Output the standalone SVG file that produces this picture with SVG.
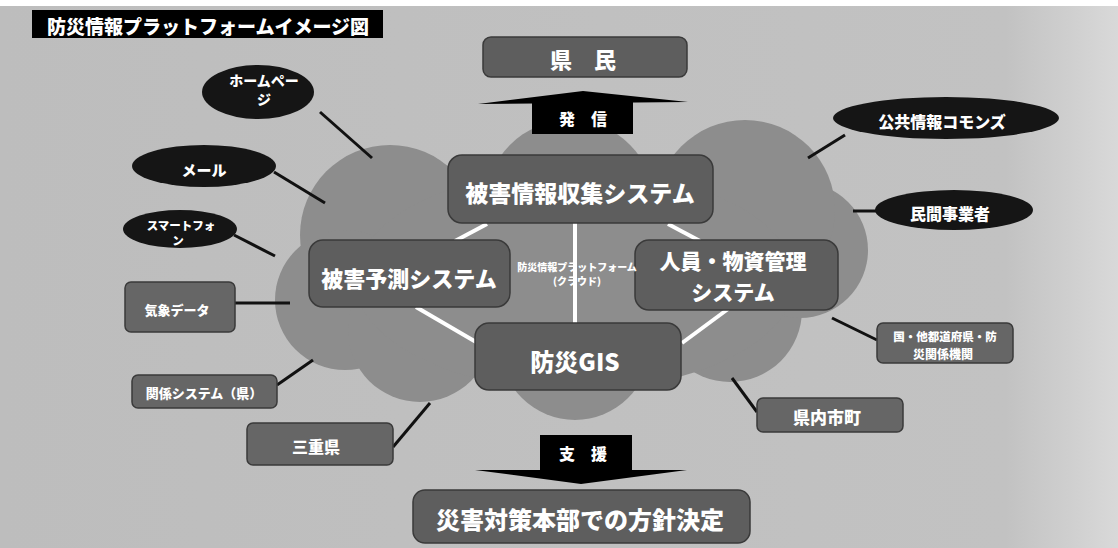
<svg xmlns="http://www.w3.org/2000/svg" width="1118" height="548" viewBox="0 0 1118 548">
<defs>
<linearGradient id="bg" x1="0" y1="0" x2="1" y2="0">
<stop offset="0" stop-color="#bdbdbd"/>
<stop offset="0.9" stop-color="#c2c2c2"/>
<stop offset="1" stop-color="#d9d9d9"/>
</linearGradient>
<style>
text{font-family:"Noto Sans CJK JP","Noto Sans CJK SC",sans-serif;font-weight:900;fill:#fff;text-anchor:middle;dominant-baseline:central}
.box{fill:#5e5e5e;stroke:#3a3a3a;stroke-width:1.5}
.sbox{fill:#666;stroke:#3a3a3a;stroke-width:1.5}
.ell{fill:#151515}
.cn{stroke:#111;stroke-width:3;fill:none}
.wl{stroke:#fff;stroke-width:4;fill:none}
.cloud{fill:#8d8d8d}
</style>
</defs>
<rect x="0" y="0" width="1118" height="548" fill="#fff"/>
<rect x="0" y="6" width="1118" height="542" fill="url(#bg)"/>

<g id="title">
<rect x="32" y="10" width="351" height="28" fill="#000"/>
<text x="208" y="25" font-size="19">防災情報プラットフォームイメージ図</text>
</g>

<g id="cloud" class="cloud">
<circle cx="390" cy="235" r="90"/>
<circle cx="345" cy="300" r="70"/>
<circle cx="420" cy="330" r="72"/>
<circle cx="575" cy="345" r="75"/>
<circle cx="730" cy="310" r="72"/>
<circle cx="800" cy="250" r="68"/>
<circle cx="745" cy="210" r="90"/>
<circle cx="570" cy="205" r="85"/>
<ellipse cx="575" cy="280" rx="220" ry="110"/>
</g>

<g id="connectors">
<line class="cn" x1="320" y1="112" x2="372" y2="158"/>
<line class="cn" x1="274" y1="172" x2="325" y2="203"/>
<line class="cn" x1="234" y1="235" x2="275" y2="256"/>
<line class="cn" x1="235" y1="303" x2="290" y2="303"/>
<line class="cn" x1="277" y1="385" x2="313" y2="360"/>
<line class="cn" x1="393" y1="447" x2="430" y2="403"/>
<line class="cn" x1="845" y1="135" x2="808" y2="158"/>
<line class="cn" x1="877" y1="211" x2="853" y2="211"/>
<line class="cn" x1="877" y1="340" x2="832" y2="318"/>
<line class="cn" x1="757" y1="412" x2="732" y2="378"/>
<line class="wl" x1="575" y1="223" x2="575" y2="323"/>
<line class="wl" x1="487" y1="224" x2="455" y2="241"/>
<line class="wl" x1="668" y1="224" x2="700" y2="241"/>
<line class="wl" x1="416" y1="307" x2="476" y2="342"/>
<line class="wl" x1="728" y1="309" x2="682" y2="343"/>
</g>

<g id="kenmin">
<rect class="box" x="483" y="37" width="204" height="40" rx="8"/>
<text x="583" y="58" font-size="22">県　民</text>
</g>

<g id="hasshin">
<polygon points="478,104 583,91 688,102" fill="#000"/>
<rect x="532" y="102" width="101" height="32" fill="#000"/>
<text x="583" y="118" font-size="16">発　信</text>
</g>

<g id="homepage">
<ellipse class="ell" cx="258" cy="92" rx="56" ry="27"/>
<text x="264" y="80" font-size="14">ホームペー</text>
<text x="264" y="99" font-size="14">ジ</text>
</g>

<g id="mail">
<ellipse class="ell" cx="204" cy="166" rx="72" ry="21"/>
<text x="204" y="169" font-size="15">メール</text>
</g>

<g id="smartphone">
<ellipse class="ell" cx="180" cy="229" rx="57" ry="19"/>
<text x="181" y="225" font-size="11.5">スマートフォ</text>
<text x="178" y="240" font-size="11.5">ン</text>
</g>

<g id="kisho">
<rect class="sbox" x="125" y="282" width="110" height="50" rx="6"/>
<text x="177" y="309" font-size="13">気象データ</text>
</g>

<g id="kankei">
<rect class="sbox" x="132" y="375" width="145" height="33" rx="6"/>
<text x="204" y="392" font-size="13">関係システム（県）</text>
</g>

<g id="mie">
<rect class="sbox" x="247" y="423" width="146" height="42" rx="6"/>
<text x="316" y="446" font-size="16">三重県</text>
</g>

<g id="commons">
<ellipse class="ell" cx="946" cy="118" rx="113" ry="21"/>
<text x="942" y="121" font-size="16">公共情報コモンズ</text>
</g>

<g id="minkan">
<ellipse class="ell" cx="954" cy="210" rx="79" ry="20"/>
<text x="950" y="213" font-size="16">民間事業者</text>
</g>

<g id="kuni">
<rect class="sbox" x="877" y="323" width="136" height="40" rx="6"/>
<text x="945" y="336" font-size="11.5">国・他都道府県・防</text>
<text x="943" y="353" font-size="12">災関係機関</text>
</g>

<g id="kennai">
<rect class="sbox" x="757" y="398" width="146" height="34" rx="6"/>
<text x="827" y="416" font-size="17">県内市町</text>
</g>

<g id="higai-joho">
<rect class="box" x="448" y="155" width="265" height="68" rx="14"/>
<text x="580" y="192" font-size="23">被害情報収集システム</text>
</g>

<g id="higai-yosoku">
<rect class="box" x="309" y="240" width="201" height="67" rx="14"/>
<text x="409" y="277" font-size="22">被害予測システム</text>
</g>

<g id="jinin">
<rect class="box" x="635" y="240" width="203" height="70" rx="14"/>
<text x="733" y="260" font-size="21">人員・物資管理</text>
<text x="733" y="291" font-size="21">システム</text>
</g>

<g id="platform-label">
<text x="577" y="266" font-size="10">防災情報プラットフォーム</text>
<text x="577" y="280" font-size="10">(クラウド)</text>
</g>

<g id="gis">
<rect class="box" x="475" y="323" width="206" height="67" rx="14"/>
<text x="575" y="360" font-size="24">防災GIS</text>
</g>

<g id="shien">
<rect x="540" y="435" width="92" height="36" fill="#000"/>
<polygon points="475,470 687,470 581,484" fill="#000"/>
<text x="583" y="453" font-size="16">支　援</text>
</g>

<g id="honbu">
<rect class="box" x="413" y="490" width="337" height="53" rx="12"/>
<text x="580" y="518" font-size="24">災害対策本部での方針決定</text>
</g>
</svg>
